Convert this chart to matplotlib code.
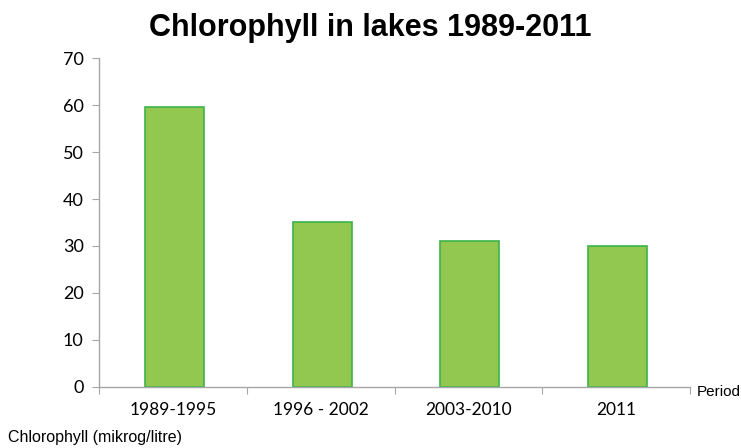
import matplotlib

matplotlib.use("Agg")
import matplotlib.pyplot as plt
import numpy as np

# Chart data
periods = ["1989-1995", "1996 - 2002", "2003-2010", "2011"]
chlorophyll = [59.5, 35, 31, 30]
y_ticks = [0, 10, 20, 30, 40, 50, 60, 70]

BAR_FILL = "#92c850"
BAR_EDGE = "#3cb44a"
AXIS_GREY = "#a6a6a6"

fig = plt.figure(figsize=(7.41, 4.48), dpi=100)
ax = fig.add_axes([0.1336, 0.1362, 0.7976, 0.7343])

x = np.arange(len(periods))
ax.bar(x + 0.01, chlorophyll, width=0.4, color=BAR_FILL, edgecolor=BAR_EDGE, linewidth=1.2)

ax.set_xlim(-0.5, len(periods) - 0.5)
ax.set_ylim(0, 70)
ax.set_yticks(y_ticks)
ax.set_yticklabels([str(v) for v in y_ticks], fontsize=13, family="Lato")

# category boundaries get the tick marks, labels sit in the middle
ax.set_xticks(np.arange(len(periods) + 1) - 0.5)
ax.set_xticklabels([])
ax.set_xticks(x, minor=True)
ax.set_xticklabels(periods, minor=True, fontsize=12.5, family="Lato")
ax.tick_params(axis="x", which="minor", length=0, pad=11)
ax.tick_params(axis="x", which="major", length=5, color=AXIS_GREY, direction="out")
ax.tick_params(axis="y", length=5, color=AXIS_GREY, pad=6)

for side in ["top", "right"]:
    ax.spines[side].set_visible(False)
for side in ["left", "bottom"]:
    ax.spines[side].set_color(AXIS_GREY)
    ax.spines[side].set_linewidth(1.0)

fig.text(0.5, 1 - 28 / 448, "Chlorophyll in lakes 1989-2011", ha="center", va="center",
         fontsize=22, fontweight="bold", family="Liberation Sans")
fig.text(697 / 741, 1 - 392 / 448, "Period", ha="left", va="center",
         fontsize=11, family="Liberation Sans")
fig.text(8 / 741, 1 - 437 / 448, "Chlorophyll (mikrog/litre)", ha="left", va="center",
         fontsize=11.5, family="Liberation Sans")

fig.savefig("out.png", dpi=100)
